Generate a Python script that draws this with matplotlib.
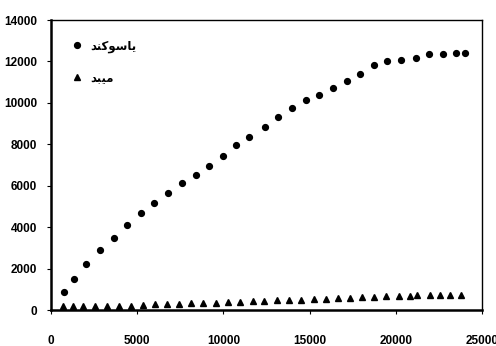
import matplotlib
matplotlib.use('Agg')
import matplotlib.pyplot as plt

# Yasukand series (circles)
yasukand_x = [750, 1320, 2050, 2820, 3640, 4430, 5220, 6000, 6810, 7600, 8390,
              9170, 9960, 10750, 11500, 12390, 13190, 13960, 14770, 15560, 16360,
              17150, 17940, 18740, 19510, 20300, 21150, 21940, 22720, 23490, 24000]
yasukand_y = [870, 1480, 2220, 2880, 3490, 4100, 4670, 5190, 5650, 6120, 6540,
              6970, 7440, 7950, 8370, 8860, 9320, 9740, 10130, 10390, 10720,
              11060, 11400, 11850, 12000, 12090, 12190, 12340, 12340, 12415, 12415]

# Meybod series (triangles)
meybod_x = [713, 1258, 1873, 2535, 3230, 3944, 4640, 5320, 6030, 6710, 7440, 8120,
            8830, 9550, 10280, 10960, 11700, 12355, 13090, 13820, 14520, 15240,
            15930, 16650, 17340, 18040, 18750, 19430, 20170, 20820, 21230, 21980,
            22550, 23160, 23760]
meybod_y = [180, 180, 190, 190, 190, 190, 190, 260, 270, 280, 290, 320,
            330, 350, 370, 400, 420, 440, 460, 480, 500, 520,
            540, 570, 590, 620, 650, 670, 690, 690, 720, 730,
            730, 730, 730]

x_ticks = [0, 5000, 10000, 15000, 20000, 25000]
y_ticks = [0, 2000, 4000, 6000, 8000, 10000, 12000, 14000]

# matplotlib does no Arabic shaping, so the labels are given as
# presentation forms in visual order: یاسوکند and میبد
label_yasukand = '\ufeaa\ufee8\ufb90\ufeee\ufeb3\ufe8e\ufbfe'
label_meybod = '\ufeaa\ufe92\ufbff\ufee3'

fonts = ['Liberation Sans Narrow', 'Liberation Sans', 'DejaVu Sans']
plt.rcParams['font.family'] = fonts
plt.rcParams['font.weight'] = 'bold'

fig = plt.figure(figsize=(4.96, 3.46), dpi=100)
ax = fig.add_axes([0.1028, 0.104, 0.869, 0.838])

ax.plot(yasukand_x, yasukand_y, 'o', color='black', markersize=4.2, label=label_yasukand)
ax.plot(meybod_x, meybod_y, '^', color='black', markersize=4.4, label=label_meybod)

ax.set_xlim(0, 25000)
ax.set_ylim(0, 14000)
ax.set_xticks(x_ticks)
ax.set_yticks(y_ticks)
ax.tick_params(axis='x', direction='out', length=3, width=0.8, pad=15, labelsize=8.5)
ax.tick_params(axis='y', direction='out', length=3, width=0.8, pad=7, labelsize=8.5)
for lab in ax.get_xticklabels() + ax.get_yticklabels():
    lab.set_fontweight('bold')

ax.spines['left'].set_linewidth(1.8)
ax.spines['bottom'].set_linewidth(1.8)
ax.spines['top'].set_linewidth(1.0)
ax.spines['right'].set_linewidth(1.0)

leg = ax.legend(loc='upper left', bbox_to_anchor=(0.022, 0.97), frameon=False,
                handlelength=1.0, handletextpad=0.6, labelspacing=1.55,
                prop={'family': ['DejaVu Sans'], 'weight': 'bold', 'size': 8.5})

fig.savefig('out.png', dpi=100)
